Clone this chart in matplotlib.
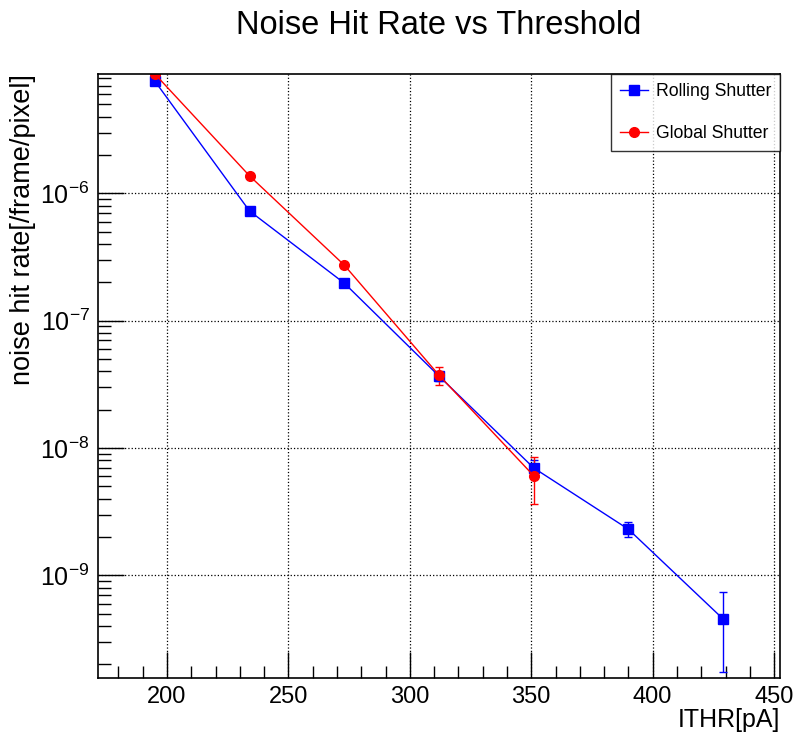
import matplotlib
matplotlib.use("Agg")
import matplotlib.pyplot as plt
from matplotlib.lines import Line2D
from matplotlib.ticker import LogLocator, MultipleLocator, NullFormatter

plt.rcParams['font.family'] = ['Liberation Sans', 'DejaVu Sans']
plt.rcParams['mathtext.default'] = 'regular'

# data
ithr_rolling = [195, 234, 273, 312, 351, 390, 429]
rate_rolling = [7.6e-6, 7.26e-7, 1.97e-7, 3.67e-8, 6.97e-9, 2.3e-9, 4.54e-10]
err_rolling = [1.5e-7, 2.5e-8, 1.0e-8, 3.0e-9, 1.0e-9, 3.2e-10, 2.8e-10]

ithr_global = [195, 234, 273, 312, 351]
rate_global = [8.65e-6, 1.37e-6, 2.73e-7, 3.73e-8, 6.05e-9]
err_global = [1.5e-7, 4.0e-8, 1.2e-8, 6.0e-9, 2.45e-9]

fig = plt.figure(figsize=(7.95, 7.34), dpi=100)
ax = fig.add_axes([0.1233, 0.0763, 0.8577, 0.8229])

ax.errorbar(ithr_rolling, rate_rolling, yerr=err_rolling, color='blue', marker='s',
            markersize=7, linewidth=1, elinewidth=1, capsize=3)
ax.errorbar(ithr_global, rate_global, yerr=err_global, color='red', marker='o',
            markersize=7, linewidth=1, elinewidth=1, capsize=3)

ax.set_yscale('log')
ax.set_xlim(171.6, 452.4)
ax.set_ylim(1.56e-10, 8.65e-6)

ax.xaxis.set_major_locator(MultipleLocator(50))
ax.xaxis.set_minor_locator(MultipleLocator(10))
ax.yaxis.set_major_locator(LogLocator(base=10, numticks=20))
ax.yaxis.set_minor_locator(LogLocator(base=10, subs=range(2, 10), numticks=20))
ax.yaxis.set_minor_formatter(NullFormatter())

ax.tick_params(which='both', direction='in', top=False, right=False, width=1)
ax.tick_params(axis='x', labelsize=17)
ax.tick_params(axis='y', labelsize=18)
ax.tick_params(which='major', length=19, pad=6)
ax.tick_params(which='minor', length=9)

ax.grid(True, which='major', linestyle=':', color='black', linewidth=0.9)
for s in ax.spines.values():
    s.set_linewidth(1.2)

ax.set_title('Noise Hit Rate vs Threshold', fontsize=23.5, pad=29)
ax.set_xlabel('ITHR[pA]', fontsize=18, loc='right', labelpad=0)
ax.set_ylabel('noise hit rate[/frame/pixel]', fontsize=19.5, loc='top', labelpad=3)

handles = [
    Line2D([], [], color='blue', marker='s', markersize=7, linewidth=1),
    Line2D([], [], color='red', marker='o', markersize=7, linewidth=1),
]
leg = ax.legend(handles, ['Rolling Shutter', 'Global Shutter'], loc='upper right',
                fontsize=12.7, frameon=True, fancybox=False, edgecolor='black',
                borderaxespad=0, borderpad=0.5, labelspacing=1.45, handlelength=1.6,
                handletextpad=0.45)
leg.get_frame().set_linewidth(1)

fig.savefig('out.png', dpi=100)
